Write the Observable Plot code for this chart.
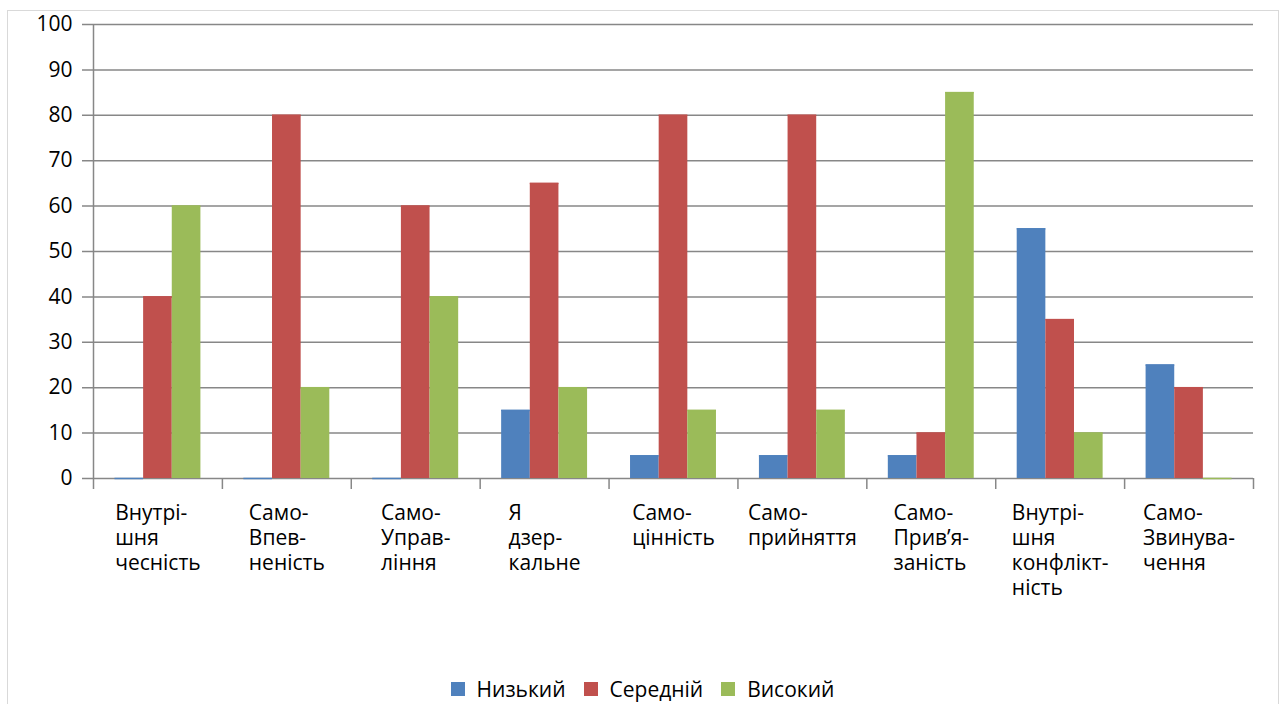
<!DOCTYPE html>
<html>
<head>
<meta charset="utf-8">
<script src="https://cdn.jsdelivr.net/npm/d3@7"></script>
<script src="https://cdn.jsdelivr.net/npm/@observablehq/plot@0.6"></script>
<style>
  html, body { margin: 0; padding: 0; background: #fff; }
  body { position: relative; width: 1285px; height: 704px; overflow: hidden; font-family: "Open Sans", sans-serif; }
  #border { position: absolute; left: 7px; top: 10px; width: 1270px; height: 720px; border: 1.5px solid #d9d9d9; }
  #chart { position: absolute; left: 0; top: 0; }
  #legend { position: absolute; left: 0; top: 674px; width: 1285px; height: 30px; display: flex; justify-content: center; align-items: center; font-size: 21px; color: #000; }
  .item { display: flex; align-items: center; margin: 0 9px; }
  .swatch { width: 14px; height: 14px; margin-right: 12px; }
</style>
</head>
<body>
<div id="border"></div>
<div id="chart"></div>
<div id="legend"></div>
<script>
// Scale categories (line breaks as printed under the axis)
const categories = [
  "Внутрі-\nшня\nчесність",
  "Само-\nВпев-\nненість",
  "Само-\nУправ-\nління",
  "Я\nдзер-\nкальне",
  "Само-\nцінність",
  "Само-\nприйняття",
  "Само-\nПрив’я-\nзаність",
  "Внутрі-\nшня\nконфлікт-\nність",
  "Само-\nЗвинува-\nчення"
];
const seriesNames = ["Низький", "Середній", "Високий"];
const lowValues  = [0, 0, 0, 15, 5, 5, 5, 55, 25];
const midValues  = [40, 80, 60, 65, 80, 80, 10, 35, 20];
const highValues = [60, 20, 40, 20, 15, 15, 85, 10, 0];
const yTicks = [0, 10, 20, 30, 40, 50, 60, 70, 80, 90, 100];
const colors = ["#4F81BD", "#C0504D", "#9BBB59"];

// Layout
const W = 1285, H = 672;
const marginLeft = 93, marginRight = 32, marginTop = 24;
const axisBottom = 489, tickLen = 11;
const fontSize = 21;
const fontFamily = "'Open Sans', sans-serif";
const gridColor = "#878787";

// Extend the y domain slightly below zero so category ticks hang under the baseline
const yMin = -100 * tickLen / (axisBottom - marginTop - tickLen);
const step = (W - marginLeft - marginRight) / categories.length;
const barW = step / 4.5;       // three bars plus 150% gap
const gap = barW * 0.75;

const seriesValues = [lowValues, midValues, highValues];
const rows = seriesValues.map((vals, j) =>
  categories.map((c, i) => ({category: c, value: vals[i], series: seriesNames[j]}))
);

// Text measurement for centring each multi-line label block
const ctx = document.createElement("canvas").getContext("2d");
ctx.font = `${fontSize}px ${fontFamily}`;
const textWidth = (s) => ctx.measureText(s).width;

const barMarks = rows.map((r, j) => Plot.barY(r, {
  x: "category", y1: 0, y2: "value", fill: colors[j],
  insetLeft: gap + j * barW, insetRight: step - gap - (j + 1) * barW
}));
const topMarks = rows.map((r, j) => Plot.tickY(r, {
  x: "category", y: "value", stroke: colors[j], strokeWidth: 1.5,
  insetLeft: gap + j * barW, insetRight: step - gap - (j + 1) * barW
}));
const labelMarks = categories.map((c) => {
  const w = d3.max(c.split("\n"), textWidth);
  return Plot.text([c], {
    x: (d) => d, text: (d) => d, frameAnchor: "bottom",
    textAnchor: "start", lineAnchor: "top", lineHeight: 1.19,
    dx: -w / 2, dy: 12.5, fontSize, fill: "#000"
  });
});

const chart = Plot.plot({
  width: W, height: H,
  marginLeft, marginRight, marginTop, marginBottom: H - axisBottom,
  style: {fontFamily, fontSize: `${fontSize}px`, background: "transparent", color: "#000"},
  x: {type: "band", domain: categories, padding: 0, round: false, axis: null},
  y: {domain: [yMin, 100], axis: null},
  marks: [
    Plot.ruleY(yTicks, {stroke: gridColor, strokeWidth: 1.5, insetLeft: -tickLen}),
    ...barMarks,
    ...topMarks,
    // vertical axis line
    Plot.ruleX([categories[0]], {x: (d) => d, dx: -step / 2, y1: yMin, y2: 100, stroke: gridColor, strokeWidth: 1.5}),
    // category boundary ticks
    Plot.ruleX(categories.slice(1), {x: (d) => d, dx: -step / 2, y1: yMin, y2: 0, stroke: gridColor, strokeWidth: 1.5}),
    Plot.ruleX([categories[categories.length - 1]], {x: (d) => d, dx: step / 2, y1: yMin, y2: 0, stroke: gridColor, strokeWidth: 1.5}),
    Plot.axisY({ticks: yTicks, tickSize: 0, tickPadding: 21, label: null, fontSize, fill: "#000"}),
    ...labelMarks
  ]
});
document.getElementById("chart").append(chart);

// Legend
const legend = document.getElementById("legend");
seriesNames.forEach((name, j) => {
  const item = document.createElement("div");
  item.className = "item";
  const sw = document.createElement("span");
  sw.className = "swatch";
  sw.style.background = colors[j];
  const label = document.createElement("span");
  label.textContent = name;
  item.append(sw, label);
  legend.append(item);
});
</script>
</body>
</html>
